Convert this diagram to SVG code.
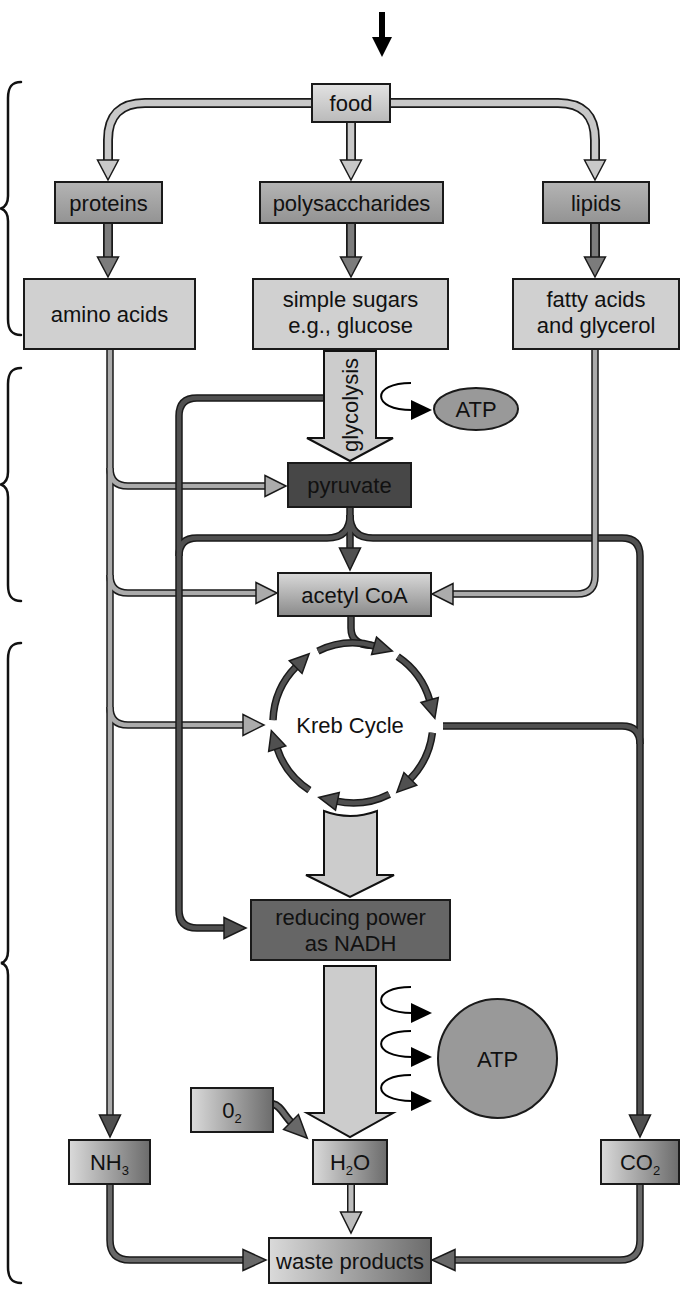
<svg xmlns="http://www.w3.org/2000/svg" width="680" height="1289" viewBox="0 0 680 1289">
<style>
.box{stroke:#1a1a1a;stroke-width:2}
.t{font-family:'Liberation Sans',Arial,sans-serif;font-size:22px;fill:#111;text-anchor:middle}
.sub{font-size:13px}
.brace{fill:none;stroke:#111;stroke-width:2.5;stroke-linecap:round}
.o10{fill:none;stroke:#1a1a1a;stroke-width:10}
.o8{fill:none;stroke:#1a1a1a;stroke-width:8}
.o7{fill:none;stroke:#1a1a1a;stroke-width:7.5}
.iL{fill:none;stroke:#c8c8c8;stroke-width:6.5}
.iM{fill:none;stroke:#7c7c7c;stroke-width:6.5}
.iA{fill:none;stroke:#ababab;stroke-width:4.5}
.iD{fill:none;stroke:#505050;stroke-width:4.5}
.iW{fill:none;stroke:#686868;stroke-width:4.5}
.iH{fill:none;stroke:#bdbdbd;stroke-width:5}
.big{fill:#cccccc;stroke:#111;stroke-width:2;stroke-linejoin:miter}
.thin{fill:none;stroke:#000;stroke-width:2}
.hL{fill:#c8c8c8;stroke:#1a1a1a;stroke-width:1.5}
.hM{fill:#7c7c7c;stroke:#1a1a1a;stroke-width:1.5}
.hA{fill:#ababab;stroke:#1a1a1a;stroke-width:1.5}
.hD{fill:#505050;stroke:#1a1a1a;stroke-width:1.5}
.hW{fill:#686868;stroke:#1a1a1a;stroke-width:1.5}
.hH{fill:#bdbdbd;stroke:#1a1a1a;stroke-width:1.5}
</style>
<defs>
<linearGradient id="gFood" x1="0" y1="0" x2="0" y2="1"><stop offset="0" stop-color="#e2e2e2"/><stop offset="1" stop-color="#bababa"/></linearGradient>
<linearGradient id="gProt" x1="0" y1="0" x2="0" y2="1"><stop offset="0" stop-color="#b4b4b4"/><stop offset="1" stop-color="#939393"/></linearGradient>
<linearGradient id="gAcet" x1="0" y1="0" x2="0" y2="1"><stop offset="0" stop-color="#d9d9d9"/><stop offset="1" stop-color="#8a8a8a"/></linearGradient>
<linearGradient id="gH" x1="0" y1="0" x2="1" y2="0"><stop offset="0" stop-color="#dadada"/><stop offset="1" stop-color="#6c6c6c"/></linearGradient>
<marker id="mL" markerUnits="userSpaceOnUse" orient="auto" overflow="visible" refX="0" refY="0" markerWidth="40" markerHeight="40"><path class="hL" d="M0,-10.5 L20,0 L0,10.5 Z"/></marker>
<marker id="mM" markerUnits="userSpaceOnUse" orient="auto" overflow="visible" refX="0" refY="0" markerWidth="40" markerHeight="40"><path class="hM" d="M0,-10.5 L20,0 L0,10.5 Z"/></marker>
<marker id="mA" markerUnits="userSpaceOnUse" orient="auto" overflow="visible" refX="0" refY="0" markerWidth="40" markerHeight="40"><path class="hA" d="M0,-10.5 L21,0 L0,10.5 Z"/></marker>
<marker id="mD" markerUnits="userSpaceOnUse" orient="auto" overflow="visible" refX="0" refY="0" markerWidth="40" markerHeight="40"><path class="hD" d="M0,-10.5 L22,0 L0,10.5 Z"/></marker>
<marker id="mK" markerUnits="userSpaceOnUse" orient="auto" overflow="visible" refX="0" refY="0" markerWidth="40" markerHeight="40"><path class="hD" d="M-1,-9 L18,0 L-1,9 Z"/></marker>
<marker id="mW" markerUnits="userSpaceOnUse" orient="auto" overflow="visible" refX="0" refY="0" markerWidth="40" markerHeight="40"><path class="hW" d="M0,-10.5 L23,0 L0,10.5 Z"/></marker>
<marker id="mH" markerUnits="userSpaceOnUse" orient="auto" overflow="visible" refX="0" refY="0" markerWidth="40" markerHeight="40"><path class="hH" d="M0,-10.5 L21,0 L0,10.5 Z"/></marker>
</defs>
<rect width="680" height="1289" fill="#ffffff"/>

<g id="braces">
<path class="brace" d="M21,82 C11,82 8,88 8,98 L8,196 C8,204 5,207 1,208.5 C5,210 8,213 8,221 L8,319 C8,329 11,335 21,335"/>
<path class="brace" d="M21,368 C11,368 8,374 8,384 L8,472 C8,480 5,483 1,484.5 C5,486 8,489 8,497 L8,585 C8,595 11,601 21,601"/>
<path class="brace" d="M21,643 C11,643 8,649 8,659 L8,951 C8,959 5,962 1,963 C5,964 8,967 8,975 L8,1267 C8,1277 11,1283 21,1283"/>
</g>

<g id="connectors">
<line x1="382" y1="12" x2="382" y2="39" stroke="#000" stroke-width="6"/>
<polygon points="372,37 392,37 382,57" fill="#000"/>
<path class="o10" d="M312,103 L145,103 Q108,103 108,140 L108,160"/>
<path class="iL" d="M312,103 L145,103 Q108,103 108,140 L108,160" marker-end="url(#mL)"/>
<path class="o10" d="M390,103 L558,103 Q595,103 595,140 L595,160"/>
<path class="iL" d="M390,103 L558,103 Q595,103 595,140 L595,160" marker-end="url(#mL)"/>
<path class="o10" d="M351,122 L351,160"/>
<path class="iL" d="M351,122 L351,160" marker-end="url(#mL)"/>
<path class="o10" d="M108,223 L108,257"/>
<path class="iM" d="M108,223 L108,257" marker-end="url(#mM)"/>
<path class="o10" d="M351,223 L351,257"/>
<path class="iM" d="M351,223 L351,257" marker-end="url(#mM)"/>
<path class="o10" d="M595,223 L595,257"/>
<path class="iM" d="M595,223 L595,257" marker-end="url(#mM)"/>
<path class="o7" d="M110,349 L110,1115"/>
<path class="o7" d="M110,468 Q110,486 128,486 L265,486"/>
<path class="o7" d="M110,575 Q110,593 128,593 L256,593"/>
<path class="o7" d="M110,707 Q110,725 128,725 L243,725"/>
<path class="iA" d="M110,349 L110,1115" marker-end="url(#mD)"/>
<path class="iA" d="M110,468 Q110,486 128,486 L265,486" marker-end="url(#mA)"/>
<path class="iA" d="M110,575 Q110,593 128,593 L256,593" marker-end="url(#mA)"/>
<path class="iA" d="M110,707 Q110,725 128,725 L243,725" marker-end="url(#mA)"/>
<path class="o7" d="M326,398 L197,398 Q179,398 179,416 L179,910 Q179,928 197,928 L224,928"/>
<path class="o7" d="M350,515 Q350,538 327,538 L197,538 Q179,538 179,556"/>
<path class="o7" d="M350,515 Q350,538 373,538 L622,538 Q640,538 640,556 L640,1115"/>
<path class="o7" d="M443,726 L622,726 Q640,726 640,744"/>
<path class="o7" d="M350,506 L350,548"/>
<path class="iD" d="M326,398 L197,398 Q179,398 179,416 L179,910 Q179,928 197,928 L224,928" marker-end="url(#mD)"/>
<path class="iD" d="M350,515 Q350,538 327,538 L197,538 Q179,538 179,556"/>
<path class="iD" d="M350,515 Q350,538 373,538 L622,538 Q640,538 640,556 L640,1115" marker-end="url(#mD)"/>
<path class="iD" d="M443,726 L622,726 Q640,726 640,744"/>
<path class="iD" d="M350,506 L350,548" marker-end="url(#mD)"/>
<path class="o7" d="M595,349 L595,576 Q595,594 577,594 L453,594"/>
<path class="iA" d="M595,349 L595,576 Q595,594 577,594 L453,594" marker-end="url(#mA)"/>
<path class="o7" d="M351,616 L351,628 Q351,645 372,645.5"/>
<path class="iD" d="M351,616 L351,628 Q351,645 372,645.5"/>
<path class="o8" d="M273,1104 C280,1105 284,1115 291,1122"/>
<path class="iW" d="M273,1104 C280,1105 284,1115 291,1122" marker-end="url(#mW)"/>
<path class="o8" d="M351,1184 L351,1212"/>
<path class="iH" d="M351,1184 L351,1212" marker-end="url(#mH)"/>
<path class="o7" d="M110,1184 L110,1240 Q110,1260 130,1260 L243,1260"/>
<path class="iW" d="M110,1184 L110,1240 Q110,1260 130,1260 L243,1260" marker-end="url(#mW)"/>
<path class="o7" d="M640,1184 L640,1240 Q640,1260 620,1260 L455,1260"/>
<path class="iW" d="M640,1184 L640,1240 Q640,1260 620,1260 L455,1260" marker-end="url(#mW)"/>
<g id="glycolysis">
<polygon class="big" points="324,351 376,351 376,438 393,438 350,461 307,438 324,438"/>
<text class="t" transform="translate(358,405) rotate(-90)">glycolysis</text>
</g>
<path class="big" d="M324,811 Q350,821 377,811 L377,875 L394,875 L350,897 L306,875 L324,875 Z"/>
<polygon class="big" points="324,966 376,966 376,1113 393,1113 350,1137 307,1113 324,1113"/>
<path class="thin" d="M411,383 C371,383 371,410 412,410"/>
<polygon points="411,400 432,410 411,420" fill="#000"/>
<path class="thin" d="M411,987 C371,987 371,1013 412,1013"/>
<polygon points="411,1003 432,1013 411,1023" fill="#000"/>
<path class="thin" d="M411,1031 C371,1031 371,1057 412,1057"/>
<polygon points="411,1047 432,1057 411,1067" fill="#000"/>
<path class="thin" d="M411,1075 C371,1075 371,1101 412,1101"/>
<polygon points="411,1091 432,1101 411,1111" fill="#000"/>
</g>

<g id="food"><rect class="box" x="312" y="84" width="78" height="38" fill="url(#gFood)"/><text class="t" x="351" y="111">food</text></g>
<g id="proteins"><rect class="box" x="55" y="182" width="107" height="41" fill="url(#gProt)"/><text class="t" x="108.5" y="210.5">proteins</text></g>
<g id="polysaccharides"><rect class="box" x="260" y="182" width="183" height="41" fill="url(#gProt)"/><text class="t" x="351.5" y="210.5">polysaccharides</text></g>
<g id="lipids"><rect class="box" x="543" y="182" width="106" height="41" fill="url(#gProt)"/><text class="t" x="596" y="210.5">lipids</text></g>
<g id="amino-acids"><rect class="box" x="24" y="279" width="171" height="70" fill="#d0d0d0"/><text class="t" x="109.5" y="322">amino acids</text></g>
<g id="simple-sugars"><rect class="box" x="253" y="279" width="195" height="70" fill="#d0d0d0"/><text class="t" x="350.5" y="307">simple sugars</text><text class="t" x="350.5" y="333">e.g., glucose</text></g>
<g id="fatty-acids"><rect class="box" x="513" y="279" width="166" height="70" fill="#d0d0d0"/><text class="t" x="596" y="307">fatty acids</text><text class="t" x="596" y="333">and glycerol</text></g>
<g id="atp-small"><ellipse class="box" cx="476" cy="409" rx="42" ry="21" fill="#999999"/><text class="t" x="476" y="417">ATP</text></g>
<g id="pyruvate"><rect class="box" x="288" y="463" width="123" height="44" fill="#474747"/><text class="t" x="349.5" y="493">pyruvate</text></g>
<g id="acetyl-coa"><rect class="box" x="278" y="573" width="153" height="43" fill="url(#gAcet)"/><text class="t" x="354.5" y="602.5">acetyl CoA</text></g>
<g id="kreb-cycle">
<path class="o7" d="M317.9,651.1 A80,80 0 0 1 375.0,646.1"/>
<path class="o7" d="M397.7,656.7 A80,80 0 0 1 429.9,701.0"/>
<path class="o7" d="M432.4,732.8 A80,80 0 0 1 409.6,779.6"/>
<path class="o7" d="M389.3,794.3 A80,80 0 0 1 336.4,801.2"/>
<path class="o7" d="M309.4,790.1 A80,80 0 0 1 276.9,747.7"/>
<path class="o7" d="M273.0,720.2 A80,80 0 0 1 296.4,666.4"/>
<path class="iD" d="M317.9,651.1 A80,80 0 0 1 375.0,646.1" marker-end="url(#mK)"/>
<path class="iD" d="M397.7,656.7 A80,80 0 0 1 429.9,701.0" marker-end="url(#mK)"/>
<path class="iD" d="M432.4,732.8 A80,80 0 0 1 409.6,779.6" marker-end="url(#mK)"/>
<path class="iD" d="M389.3,794.3 A80,80 0 0 1 336.4,801.2" marker-end="url(#mK)"/>
<path class="iD" d="M309.4,790.1 A80,80 0 0 1 276.9,747.7" marker-end="url(#mK)"/>
<path class="iD" d="M273.0,720.2 A80,80 0 0 1 296.4,666.4" marker-end="url(#mK)"/>
<text class="t" x="350" y="733">Kreb Cycle</text>
</g>
<g id="nadh"><rect class="box" x="251" y="900" width="199" height="60" fill="#666666"/><text class="t" x="350.5" y="925">reducing power</text><text class="t" x="350.5" y="951">as NADH</text></g>
<g id="atp-large"><ellipse class="box" cx="497.5" cy="1058.5" rx="59.5" ry="59.5" fill="#999999"/><text class="t" x="497.5" y="1066.5">ATP</text></g>
<g id="o2"><rect class="box" x="191" y="1088" width="82" height="44" fill="url(#gH)"/><text class="t" x="232" y="1117.5">0<tspan class="sub" dy="5">2</tspan></text></g>
<g id="nh3"><rect class="box" x="69" y="1140" width="81" height="44" fill="url(#gH)"/><text class="t" x="109.5" y="1169.5">NH<tspan class="sub" dy="5">3</tspan></text></g>
<g id="h2o"><rect class="box" x="313" y="1140" width="74" height="44" fill="url(#gH)"/><text class="t" x="350" y="1169.5">H<tspan class="sub" dy="5">2</tspan><tspan dy="-5">O</tspan></text></g>
<g id="co2"><rect class="box" x="601" y="1140" width="78" height="44" fill="url(#gH)"/><text class="t" x="640" y="1169.5">CO<tspan class="sub" dy="5">2</tspan></text></g>
<g id="waste"><rect class="box" x="269" y="1238" width="162" height="45" fill="url(#gH)"/><text class="t" x="350" y="1268.5">waste products</text></g>
</svg>
